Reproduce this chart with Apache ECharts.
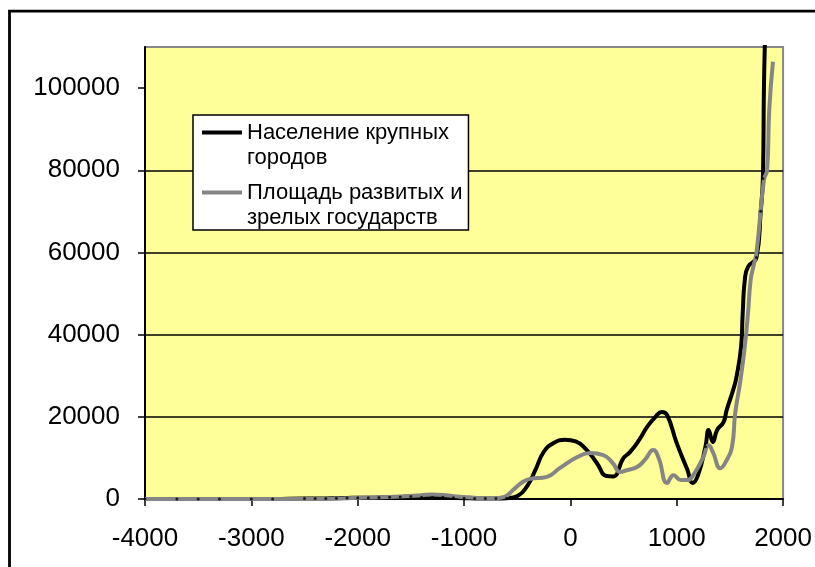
<!DOCTYPE html>
<html>
<head>
<meta charset="utf-8">
<script src="https://cdn.jsdelivr.net/npm/echarts@6/dist/echarts.min.js"></script>
<style>
html,body{margin:0;padding:0;background:#fff;}
#c{width:815px;height:567px;}
</style>
</head>
<body>
<div id="c"></div>
<script>
const seriesNames = ['Население крупных городов', 'Площадь развитых и зрелых государств'];
const legendLabels = ['Население крупных\nгородов', 'Площадь развитых и\nзрелых государств'];

const cityYears = [-4000,-3700,-3500,-3300,-3000,-2800,-2500,-2400,-2300,-2200,-2100,-2000,-1900,-1800,-1700,-1600,-1500,-1400,-1300,-1200,-1100,-1000,-900,-800,-700,-600,-500,-400,-330,-250,-160,-50,50,150,250,340,400,500,560,650,720,800,860,910,1000,1100,1150,1200,1270,1300,1340,1380,1440,1470,1530,1560,1605,1620,1640,1670,1750,1790,1810,1820,1830];
const cityValues = [0,0,0,0,0,0,100,100,150,200,250,300,300,350,400,500,600,400,400,400,300,200,150,100,100,200,700,3400,7000,11500,13600,14400,14000,12000,8700,5600,5500,10000,11400,14500,17500,20000,21200,20400,13600,7100,3900,5800,12700,16800,13900,16800,18700,21700,26500,29500,37000,45000,53300,56500,58800,70000,78000,100000,112000];

const areaYears = [-4000,-3000,-2500,-2200,-2000,-1800,-1600,-1400,-1300,-1200,-1100,-1000,-900,-800,-700,-620,-540,-445,-380,-220,-100,65,185,310,400,465,530,627,700,780,830,910,970,1040,1100,1155,1250,1300,1340,1410,1470,1520,1550,1600,1640,1670,1695,1720,1750,1820,1850,1870,1905];
const areaValues = [0,0,0,100,300,400,600,900,1100,1000,700,500,300,200,200,500,2200,4200,4900,5400,7500,10200,11200,10700,8700,6600,7000,7800,9500,11900,10000,3900,5800,4600,4600,5800,10200,13100,11400,7500,9500,12700,20900,29000,37100,45200,53300,56500,60000,77700,80100,94700,106400];

const xTicks = [-4000,-3000,-2000,-1000,0,1000,2000];
const yTicks = [0,20000,40000,60000,80000,100000];

const zip = (xs, ys) => xs.map((x, i) => [x, ys[i]]);
const FONT = 'Liberation Sans, Arial, sans-serif';

const chart = echarts.init(document.getElementById('c'), null, {renderer: 'canvas'});
chart.setOption({
  animation: false,
  backgroundColor: '#fff',
  graphic: [{
    type: 'rect', x: 9.5, y: 11.2, silent: true,
    shape: {x: 0, y: 0, width: 830, height: 620},
    style: {fill: null, stroke: '#000', lineWidth: 2.8}
  }],
  grid: {
    left: 145, top: 47, right: 31, bottom: 68,
    show: true, backgroundColor: '#ffff99', borderColor: '#888', borderWidth: 2
  },
  legend: {
    orient: 'vertical', left: 193, top: 115,
    data: seriesNames,
    selectedMode: false,
    backgroundColor: '#fff', borderColor: '#000', borderWidth: 1.5,
    padding: [5, 6, 0, 9],
    itemGap: 10,
    itemWidth: 40, itemHeight: 50,
    icon: 'path://M0,0M0,10.5H40V14.5H0ZM40,50',
    formatter: name => legendLabels[seriesNames.indexOf(name)],
    textStyle: {fontFamily: FONT, fontSize: 22, lineHeight: 25, color: '#000'}
  },
  xAxis: {
    type: 'value', min: -4000, max: 2000, interval: 1000,
    axisLine: {show: true, onZero: false, lineStyle: {color: '#000', width: 2}},
    axisTick: {show: true, inside: false, length: 7, lineStyle: {color: '#000', width: 1.5}},
    axisLabel: {margin: 27, fontFamily: FONT, fontSize: 26, color: '#000',
      formatter: v => String(v)},
    splitLine: {show: false}
  },
  yAxis: {
    type: 'value', min: 0, max: 110000, interval: 20000,
    axisLine: {show: true, onZero: false, lineStyle: {color: '#000', width: 2}},
    axisTick: {show: true, inside: false, length: 7, customValues: yTicks, lineStyle: {color: '#000', width: 1.5}},
    axisLabel: {margin: 25, fontFamily: FONT, fontSize: 26, color: '#000', customValues: yTicks,
      formatter: v => String(v)},
    splitLine: {show: true, showMaxLine: false, lineStyle: {color: '#000', width: 1.5}}
  },
  series: [
    {
      name: seriesNames[0], type: 'line', data: zip(cityYears, cityValues),
      smooth: 0.5,
      showSymbol: false, clip: true, z: 2,
      lineStyle: {color: '#000', width: 4},
      itemStyle: {color: '#000'}
    },
    {
      name: seriesNames[1], type: 'line', data: zip(areaYears, areaValues),
      smooth: 0.5,
      showSymbol: false, clip: true, z: 3,
      lineStyle: {color: '#858585', width: 4},
      itemStyle: {color: '#858585'}
    },
    {
      name: 'markers', type: 'scatter', data: zip(cityYears, cityValues).filter(p => p[1] <= 110000),
      symbol: 'circle', symbolSize: 3, z: 4, silent: true,
      itemStyle: {color: '#000'}
    }
  ]
});
</script>
</body>
</html>
